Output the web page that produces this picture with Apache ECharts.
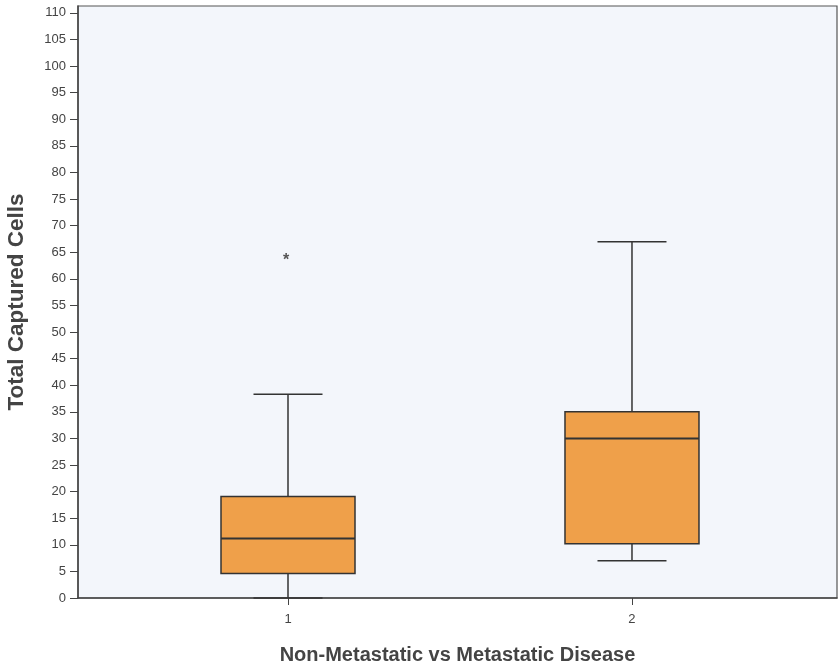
<!DOCTYPE html>
<html>
<head>
<meta charset="utf-8">
<script src="https://cdn.jsdelivr.net/npm/echarts@6/dist/echarts.min.js"></script>
<style>
  html, body { margin: 0; padding: 0; background: #ffffff; }
  #chart { width: 839px; height: 665px; }
</style>
</head>
<body>
<div id="chart"></div>
<script>
// Group codes on the x axis (1 = non-metastatic, 2 = metastatic)
const groups = [1, 2];
const groupLabels = ['1', '2'];
// Five-number summaries per group
const whiskerLow = [0, 7];
const quartile1 = [4.6, 10.2];
const medians = [11.2, 30];
const quartile3 = [19.1, 35];
const whiskerHigh = [38.3, 67];
// Extreme values drawn as asterisks: [group, value]
const extremes = [[1, 64]];
// Y axis tick values
const yTicks = [0, 5, 10, 15, 20, 25, 30, 35, 40, 45, 50, 55, 60, 65, 70, 75, 80, 85, 90, 95, 100, 105, 110];

const boxData = groups.map((g, i) => [g, whiskerLow[i], quartile1[i], medians[i], quartile3[i], whiskerHigh[i]]);

const ink = '#333333';
const font = '"Liberation Sans", Arial, sans-serif';

function renderBox(params, api) {
  const x = api.value(0);
  const lo = api.coord([x, api.value(1)]);
  const q1 = api.coord([x, api.value(2)]);
  const md = api.coord([x, api.value(3)]);
  const q3 = api.coord([x, api.value(4)]);
  const hi = api.coord([x, api.value(5)]);
  const cx = lo[0];
  const halfBox = 67;
  const halfCap = 34.5;
  const line = { stroke: ink, lineWidth: 1.5 };
  return {
    type: 'group',
    children: [
      { type: 'line', shape: { x1: cx, y1: hi[1], x2: cx, y2: q3[1] }, style: line },
      { type: 'line', shape: { x1: cx, y1: q1[1], x2: cx, y2: lo[1] }, style: line },
      { type: 'line', shape: { x1: cx - halfCap, y1: hi[1], x2: cx + halfCap, y2: hi[1] }, style: line },
      { type: 'line', shape: { x1: cx - halfCap, y1: lo[1], x2: cx + halfCap, y2: lo[1] }, style: line },
      { type: 'rect', shape: { x: cx - halfBox, y: q3[1], width: halfBox * 2, height: q1[1] - q3[1] },
        style: { fill: '#EFA04A', stroke: ink, lineWidth: 1.5 } },
      { type: 'line', shape: { x1: cx - halfBox, y1: md[1], x2: cx + halfBox, y2: md[1] },
        style: { stroke: ink, lineWidth: 2 } }
    ]
  };
}

function renderExtreme(params, api) {
  const p = api.coord([api.value(0), api.value(1)]);
  return {
    type: 'text',
    x: p[0] - 2, y: p[1] + 3,
    style: { text: '*', fill: '#555555', font: 'bold 16px ' + font, align: 'center', verticalAlign: 'middle' }
  };
}

const chart = echarts.init(document.getElementById('chart'));
chart.setOption({
  animation: false,
  backgroundColor: '#ffffff',
  grid: {
    left: 78, right: 2, top: 6, bottom: 67,
    outerBoundsMode: 'none',
    containLabel: false,
    show: true, backgroundColor: '#F3F6FB', borderColor: '#555555', borderWidth: 1.2
  },
  xAxis: {
    type: 'value',
    min: 0.3895, max: 2.596,
    name: 'Non-Metastatic vs Metastatic Disease',
    nameLocation: 'middle',
    nameGap: 47,
    nameTextStyle: { fontFamily: font, fontWeight: 'bold', fontSize: 20, color: '#444444' },
    axisLine: { show: true, lineStyle: { color: '#444444', width: 1.5 } },
    axisTick: { show: true, length: 7, customValues: groups, lineStyle: { color: '#444444' } },
    axisLabel: {
      customValues: groups,
      formatter: v => groupLabels[groups.indexOf(v)] || '',
      fontFamily: font, fontSize: 13, color: '#444444', margin: 15
    },
    splitLine: { show: false }
  },
  yAxis: {
    type: 'value',
    min: 0, max: 111.3,
    name: 'Total Captured Cells',
    nameLocation: 'middle',
    nameGap: 50,
    nameTextStyle: { fontFamily: font, fontWeight: 'bold', fontSize: 22.5, color: '#444444' },
    axisLine: { show: true, lineStyle: { color: '#444444', width: 1.5 } },
    axisTick: { show: true, length: 8, customValues: yTicks, lineStyle: { color: '#444444' } },
    axisLabel: { customValues: yTicks, fontFamily: font, fontSize: 13, color: '#444444', margin: 12 },
    splitLine: { show: false }
  },
  series: [
    {
      type: 'custom',
      renderItem: renderBox,
      data: boxData,
      encode: { x: 0, y: [1, 2, 3, 4, 5] },
      z: 3
    },
    {
      type: 'custom',
      renderItem: renderExtreme,
      data: extremes,
      encode: { x: 0, y: 1 },
      z: 4
    }
  ]
});
</script>
</body>
</html>
